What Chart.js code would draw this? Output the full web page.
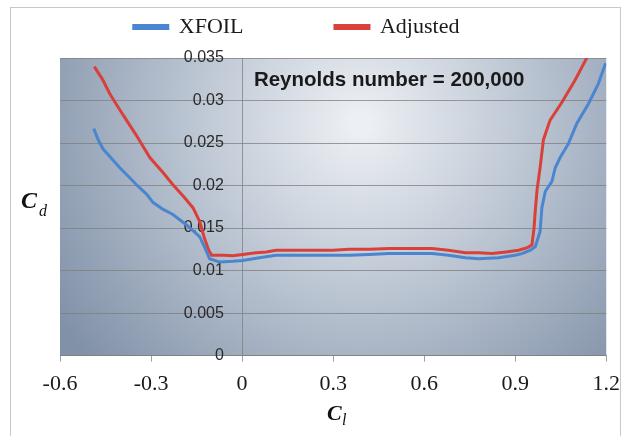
<!DOCTYPE html>
<html>
<head>
<meta charset="utf-8">
<script src="https://cdn.jsdelivr.net/npm/chart.js@4"></script>
<style>
  body { margin: 0; background: #fff; }
  #wrap { width: 629px; height: 436px; }
</style>
</head>
<body>
<div id="wrap"><canvas id="polar" width="629" height="436"></canvas></div>
<script>
// series data (Cl, Cd)
const xfoilCl = [-0.489, -0.473, -0.458, -0.43, -0.403, -0.375, -0.348, -0.315, -0.293, -0.26, -0.228, -0.184, -0.14, -0.124, -0.107, -0.074, -0.03, 0.002, 0.057, 0.112, 0.2, 0.353, 0.42, 0.484, 0.626, 0.68, 0.736, 0.78, 0.845, 0.9, 0.922, 0.95, 0.966, 0.982, 0.988, 0.999, 1.021, 1.032, 1.048, 1.075, 1.103, 1.141, 1.174, 1.198];
const xfoilCd = [0.0267, 0.0253, 0.0243, 0.0232, 0.0221, 0.0211, 0.0201, 0.0190, 0.0180, 0.0172, 0.0166, 0.0154, 0.0140, 0.0128, 0.0114, 0.0110, 0.0111, 0.0112, 0.0115, 0.0118, 0.0118, 0.0118, 0.0119, 0.0120, 0.0120, 0.0118, 0.0115, 0.0114, 0.0115, 0.0118, 0.0120, 0.0124, 0.0128, 0.0146, 0.0174, 0.0193, 0.0205, 0.0221, 0.0233, 0.0249, 0.0273, 0.0296, 0.0320, 0.0344];

const adjustedCl = [-0.487, -0.46, -0.436, -0.41, -0.381, -0.35, -0.304, -0.26, -0.228, -0.19, -0.162, -0.14, -0.124, -0.11, -0.1, -0.06, -0.031, 0.002, 0.046, 0.08, 0.112, 0.2, 0.3, 0.353, 0.42, 0.484, 0.55, 0.626, 0.68, 0.736, 0.78, 0.823, 0.87, 0.911, 0.94, 0.955, 0.962, 0.966, 0.972, 0.982, 0.993, 1.015, 1.054, 1.097, 1.14];
const adjustedCd = [0.0340, 0.0325, 0.0308, 0.0293, 0.0277, 0.0260, 0.0233, 0.0215, 0.0201, 0.0186, 0.0174, 0.0158, 0.0138, 0.0124, 0.0118, 0.0118, 0.01175, 0.0119, 0.0121, 0.0122, 0.0124, 0.0124, 0.0124, 0.0125, 0.0125, 0.0126, 0.0126, 0.0126, 0.0124, 0.0121, 0.0121, 0.0120, 0.0122, 0.0124, 0.0127, 0.0130, 0.0150, 0.0170, 0.0195, 0.0221, 0.0254, 0.0277, 0.0298, 0.0324, 0.0353];

const seriesNames = ['XFOIL', 'Adjusted'];
const noteText = 'Reynolds number = 200,000';

// pair up the arrays for a linear x scale
function toPoints(xs, ys) {
    return xs.map((x, i) => ({ x: x, y: ys[i] }));
}

// **********************************************
// background, frame and extra labels

const decorPlugin = {
    id: 'decor',
    beforeDraw(chart) {
        const { ctx, chartArea: a } = chart;
        ctx.save();
        // outer frame
        ctx.strokeStyle = '#c8c8c8';
        ctx.lineWidth = 1;
        ctx.strokeRect(10.5, 7.5, 610, 445);
        // plot background
        const cx = a.left + (a.right - a.left) * 0.55;
        const cy = a.top + (a.bottom - a.top) * 0.22;
        const g = ctx.createRadialGradient(cx, cy, 10, cx, cy, 360);
        g.addColorStop(0, '#eceff3');
        g.addColorStop(0.45, '#bcc6d3');
        g.addColorStop(1, '#8191a8');
        ctx.fillStyle = g;
        ctx.fillRect(a.left, a.top, a.right - a.left, a.bottom - a.top);
        ctx.restore();
    },
    afterDraw(chart) {
        const { ctx } = chart;
        const xs = chart.scales.x, ys = chart.scales.y;
        ctx.save();
        ctx.fillStyle = '#1a1a1a';
        ctx.textBaseline = 'middle';
        ctx.textAlign = 'left';
        ctx.font = 'bold 20.5px "Liberation Sans", Arial, sans-serif';
        ctx.fillText(noteText, xs.getPixelForValue(0.039), ys.getPixelForValue(0.0324));

        // axis titles with subscripts
        ctx.fillStyle = '#111';
        ctx.font = 'italic bold 24px "Liberation Serif", serif';
        ctx.fillText('C', 21, 202);
        ctx.font = 'italic 16px "Liberation Serif", serif';
        ctx.fillText('d', 39, 212);

        ctx.font = 'italic bold 22px "Liberation Serif", serif';
        ctx.fillText('C', 327, 414);
        ctx.font = 'italic 16px "Liberation Serif", serif';
        ctx.fillText('l', 342, 421);
        ctx.restore();
    }
};

// **********************************************
// chart

const ctx = document.getElementById('polar').getContext('2d');
const gridGray = 'rgba(125,125,125,0.75)';

const polarChart = new Chart(ctx, {
    type: 'line',
    data: {
        datasets: [
            {
                label: seriesNames[0],
                data: toPoints(xfoilCl, xfoilCd),
                borderColor: '#4a86cf',
                backgroundColor: '#4a86cf',
                borderWidth: 3,
                pointRadius: 0,
                tension: 0
            },
            {
                label: seriesNames[1],
                data: toPoints(adjustedCl, adjustedCd),
                borderColor: '#d9403a',
                backgroundColor: '#d9403a',
                borderWidth: 3,
                pointRadius: 0,
                tension: 0
            }
        ]
    },
    options: {
        responsive: false,
        animation: false,
        layout: {
            padding: { top: 6, left: 60, right: 21, bottom: 30 }
        },
        plugins: {
            legend: {
                position: 'top',
                labels: {
                    boxWidth: 34,
                    boxHeight: 3,
                    padding: 10,
                    color: '#1a1a1a',
                    font: { family: '"Liberation Serif", serif', size: 22 },
                    generateLabels(chart) {
                        const items = Chart.defaults.plugins.legend.labels.generateLabels(chart);
                        // widen the gap between entries and pull the row left
                        items[0].text = items[0].text + '\u2003\u2003\u2003\u2002\u2009';
                        items[1].text = items[1].text + '\u2003\u2003\u2003\u2009\u2009';
                        return items;
                    }
                }
            },
            // empty spacer between legend and plot
            subtitle: {
                display: true,
                text: '',
                weight: 500,
                padding: 0,
                font: { size: 8.4 }
            },
            tooltip: { enabled: false }
        },
        scales: {
            x: {
                type: 'linear',
                min: -0.6,
                max: 1.2,
                ticks: {
                    stepSize: 0.3,
                    padding: 9,
                    color: '#1a1a1a',
                    font: { family: '"Liberation Serif", serif', size: 22 },
                    callback: v => +v.toFixed(1)
                },
                grid: {
                    drawOnChartArea: true,
                    drawTicks: true,
                    tickLength: 6,
                    // only the Cl = 0 line runs up through the plot
                    color: c => (c.tick && Math.abs(c.tick.value) < 1e-9) ? gridGray : 'rgba(0,0,0,0)',
                    tickColor: gridGray
                },
                border: { display: true, color: gridGray }
            },
            y: {
                type: 'linear',
                // labels sit just left of the Cl = 0 line
                position: { x: -0.06 },
                min: 0,
                max: 0.035,
                ticks: {
                    stepSize: 0.005,
                    color: '#2a2a2a',
                    font: { family: '"Liberation Sans", Arial, sans-serif', size: 16 },
                    callback: v => +v.toFixed(3)
                },
                grid: {
                    drawTicks: false,
                    color: gridGray,
                    lineWidth: 1
                },
                border: { display: false }
            }
        }
    },
    plugins: [decorPlugin]
});
</script>
</body>
</html>
